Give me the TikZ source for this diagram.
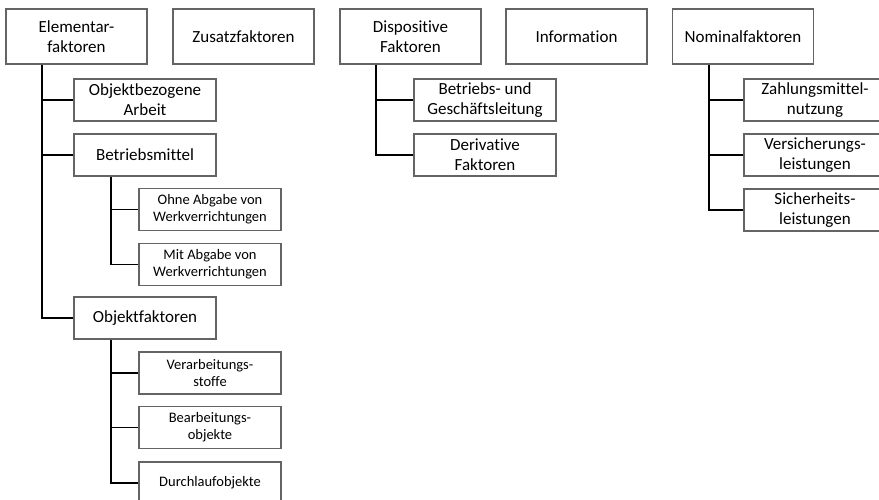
\documentclass[tikz,border=0pt]{standalone}
\usepackage{fontspec}
\setmainfont{Carlito}[Ligatures=NoCommon]
\usepackage{tikz}
\usepackage{xcolor}
\definecolor{boxgray}{HTML}{646464}
\tikzset{
    factor-box/.style = {draw=boxgray, fill=white, line width=1.6pt, rectangle, align=center, inner sep=0pt, minimum width=141pt, minimum height=55pt, font=\fontsize{17}{20}\selectfont},
    sub-box/.style = {factor-box, minimum width=142pt, minimum height=42pt},
    small-box/.style = {sub-box, font=\fontsize{14.5}{17}\selectfont},
    tree-line/.style = {draw=black, line width=1.8pt},
}

\begin{document}
\begin{tikzpicture}[x=1pt, y=1pt]
\useasboundingbox (0,0) rectangle (879,-499);
\clip (0,0) rectangle (879,-499);
% top row
\node [factor-box] (elem) at (76.5,-36.5) {Elementar-\\faktoren};
\node [factor-box] (zusatz) at (243.5,-36.5) {Zusatzfaktoren};
\node [factor-box] (dispo) at (410.5,-36.5) {Dispositive\\Faktoren};
\node [factor-box] (info) at (576.5,-36.5) {Information};
\node [factor-box] (nominal) at (743,-36.5) {Nominalfaktoren};

% Elementarfaktoren
\node [sub-box] (arbeit) at (145,-100) {Objektbezogene\\Arbeit};
\node [sub-box] (bmittel) at (145,-155) {Betriebsmittel};
\node [sub-box] (objfak) at (145,-318) {Objektfaktoren};
\node [small-box] (ohne) at (210,-209.5) {Ohne Abgabe von\\Werkverrichtungen};
\node [small-box] (mit) at (210,-264.5) {Mit Abgabe von\\Werkverrichtungen};
\node [small-box] (verarb) at (210,-373) {Verarbeitungs-\\stoffe};
\node [small-box] (bearb) at (210,-427.5) {Bearbeitungs-\\objekte};
\node [small-box] (durch) at (210,-483) {Durchlaufobjekte};

% Dispositive Faktoren
\node [sub-box] (leitung) at (485,-100) {Betriebs- und\\Gesch\"aftsleitung};
\node [sub-box] (deriv) at (485,-155) {Derivative\\Faktoren};

% Nominalfaktoren
\node [sub-box] (zahlung) at (815,-100) {Zahlungsmittel-\\nutzung};
\node [sub-box] (versich) at (815,-155) {Versicherungs-\\leistungen};
\node [sub-box] (sicher) at (815,-210) {Sicherheits-\\leistungen};

% trunks
\coordinate (elem-trunk) at ([xshift=-34.5pt]elem.south);
\coordinate (bmittel-trunk) at ([xshift=-34pt]bmittel.south);
\coordinate (objfak-trunk) at ([xshift=-34pt]objfak.south);
\coordinate (dispo-trunk) at ([xshift=-34.5pt]dispo.south);
\coordinate (nominal-trunk) at ([xshift=-34pt]nominal.south);

\draw [tree-line] (elem-trunk) |- (objfak.west);
\draw [tree-line] (elem-trunk) |- (arbeit.west);
\draw [tree-line] (elem-trunk) |- (bmittel.west);
\draw [tree-line] (bmittel-trunk) |- (mit.west);
\draw [tree-line] (bmittel-trunk) |- (ohne.west);
\draw [tree-line] (objfak-trunk) |- (durch.west);
\draw [tree-line] (objfak-trunk) |- (verarb.west);
\draw [tree-line] (objfak-trunk) |- (bearb.west);
\draw [tree-line] (dispo-trunk) |- (deriv.west);
\draw [tree-line] (dispo-trunk) |- (leitung.west);
\draw [tree-line] (nominal-trunk) |- (sicher.west);
\draw [tree-line] (nominal-trunk) |- (zahlung.west);
\draw [tree-line] (nominal-trunk) |- (versich.west);
\end{tikzpicture}
\end{document}
